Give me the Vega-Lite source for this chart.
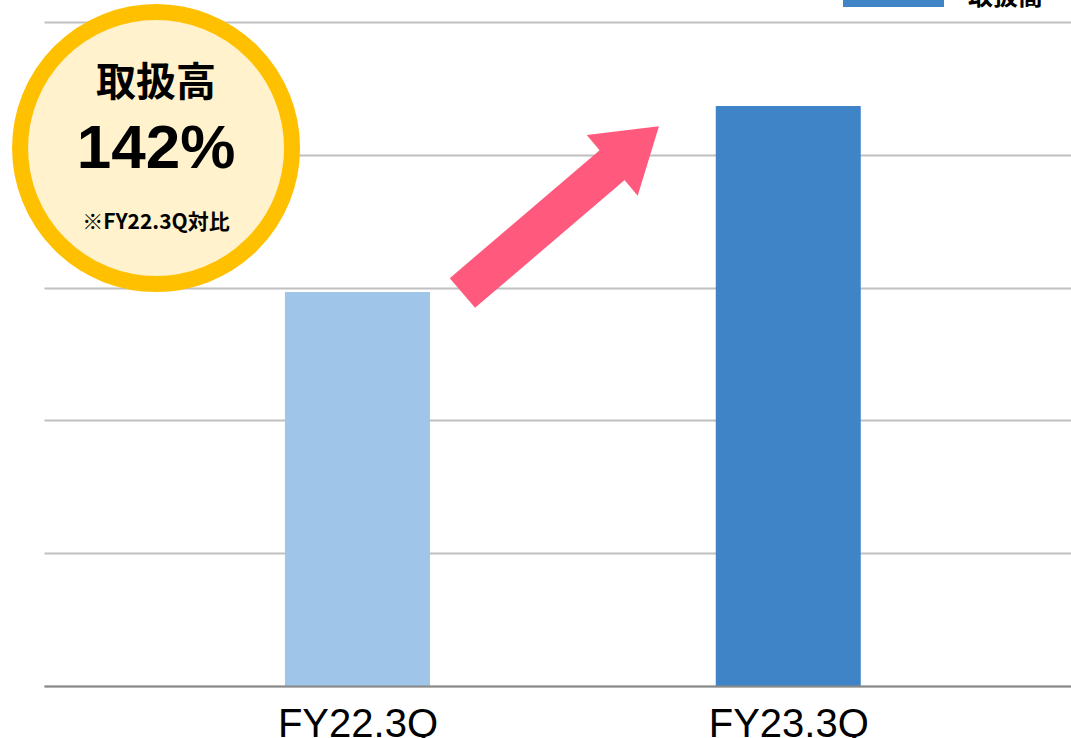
{
  "$schema": "https://vega.github.io/schema/vega-lite/v6.json",
  "width": 1027,
  "height": 664,
  "autosize": {"type": "none"},
  "padding": {"left": 44, "top": 22, "right": 0, "bottom": 52},
  "background": "white",
  "config": {"view": {"stroke": null}, "font": "Liberation Sans"},
  "layer": [
    {
      "data": {"values": [
        {"period": "FY22.3Q", "pos": 1, "value": 2.967, "series": "取扱高"},
        {"period": "FY23.3Q", "pos": 2, "value": 4.367, "series": "取扱高"}
      ]},
      "mark": {"type": "bar", "width": 145},
      "encoding": {
        "x": {"field": "pos", "type": "quantitative",
          "scale": {"domain": [0.284, 2.6447], "nice": false, "zero": false},
          "axis": {"values": [1, 2], "labelExpr": "datum.value == 1 ? 'FY22.3Q' : 'FY23.3Q'", "title": null, "grid": false, "ticks": false,
            "domainColor": "#898989", "domainWidth": 2, "labelFontSize": 40, "labelFont": "Liberation Sans", "labelColor": "#000000",
            "labelBaseline": "alphabetic", "labelPadding": 50, "zindex": 1, "labelFlush": false, "labelOverlap": false}},
        "y": {"field": "value", "type": "quantitative",
          "scale": {"domain": [0, 5], "nice": false, "zero": true},
          "axis": {"values": [0, 1, 2, 3, 4, 5], "labels": false, "ticks": false, "domain": false, "title": null, "grid": true, "gridColor": "#C0C0C0", "gridWidth": 2}},
        "color": {
          "condition": {"test": "datum.period === 'FY22.3Q'", "value": "#9FC5E8"},
          "field": "series", "type": "nominal",
          "scale": {"domain": ["取扱高"], "range": ["#3E84C6"]},
          "legend": {"title": null, "orient": "none", "legendX": 799, "legendY": -75.5, "padding": 0,
            "symbolType": "M-1,-0.2H1V0.2H-1Z", "symbolSize": 10201, "symbolStrokeWidth": 0, "symbolOpacity": 1,
            "labelFontSize": 25, "labelFont": "Noto Sans CJK JP", "labelFontWeight": "bold", "labelColor": "#000000", "labelOffset": 24}
        }
      }
    },
    {
      "data": {"values": [
        {"x": 1.2436, "y": 2.959},
        {"x": 1.5997, "y": 3.946}
      ]},
      "mark": {"type": "line", "color": "#FF5A7D", "strokeWidth": 39, "strokeCap": "butt"},
      "encoding": {
        "x": {"field": "x", "type": "quantitative", "scale": {"domain": [0.284, 2.6447], "nice": false, "zero": false}},
        "y": {"field": "y", "type": "quantitative", "scale": {"domain": [0, 5], "nice": false}}
      }
    },
    {
      "data": {"values": [{"x": 1.6456, "y": 4.068}]},
      "mark": {"type": "point", "shape": "M0,-1L1.3,1L-1.3,1Z", "size": 3721, "angle": 50, "filled": true, "color": "#FF5A7D", "opacity": 1, "strokeWidth": 0},
      "encoding": {
        "x": {"field": "x", "type": "quantitative", "scale": {"domain": [0.284, 2.6447], "nice": false, "zero": false}},
        "y": {"field": "y", "type": "quantitative", "scale": {"domain": [0, 5], "nice": false}}
      }
    },
    {
      "data": {"values": [{"x": 0.5325, "y": 4.051}]},
      "mark": {"type": "point", "shape": "circle", "size": 73984, "filled": true, "fill": "#FFF2CC", "stroke": "#FFC000", "strokeWidth": 16, "opacity": 1, "fillOpacity": 1, "strokeOpacity": 1},
      "encoding": {
        "x": {"field": "x", "type": "quantitative", "scale": {"domain": [0.284, 2.6447], "nice": false, "zero": false}},
        "y": {"field": "y", "type": "quantitative", "scale": {"domain": [0, 5], "nice": false}}
      }
    },
    {
      "data": {"values": [{"x": 0.5325, "y": 4.53, "t": "取扱高"}]},
      "mark": {"type": "text", "font": "Noto Sans CJK JP", "fontWeight": "bold", "fontSize": 40, "align": "center", "baseline": "middle", "color": "#000000"},
      "encoding": {
        "x": {"field": "x", "type": "quantitative", "scale": {"domain": [0.284, 2.6447], "nice": false, "zero": false}},
        "y": {"field": "y", "type": "quantitative", "scale": {"domain": [0, 5], "nice": false}},
        "text": {"field": "t"}
      }
    },
    {
      "data": {"values": [{"x": 0.5325, "y": 4.044, "t": "142%"}]},
      "mark": {"type": "text", "font": "Liberation Sans", "fontWeight": "bold", "fontSize": 62, "align": "center", "baseline": "middle", "color": "#000000"},
      "encoding": {
        "x": {"field": "x", "type": "quantitative", "scale": {"domain": [0.284, 2.6447], "nice": false, "zero": false}},
        "y": {"field": "y", "type": "quantitative", "scale": {"domain": [0, 5], "nice": false}},
        "text": {"field": "t"}
      }
    },
    {
      "data": {"values": [{"x": 0.5325, "y": 3.486, "t": "※FY22.3Q対比"}]},
      "mark": {"type": "text", "font": "Noto Sans CJK JP", "fontWeight": "bold", "fontSize": 21, "align": "center", "baseline": "middle", "color": "#000000"},
      "encoding": {
        "x": {"field": "x", "type": "quantitative", "scale": {"domain": [0.284, 2.6447], "nice": false, "zero": false}},
        "y": {"field": "y", "type": "quantitative", "scale": {"domain": [0, 5], "nice": false}},
        "text": {"field": "t"}
      }
    }
  ]
}
